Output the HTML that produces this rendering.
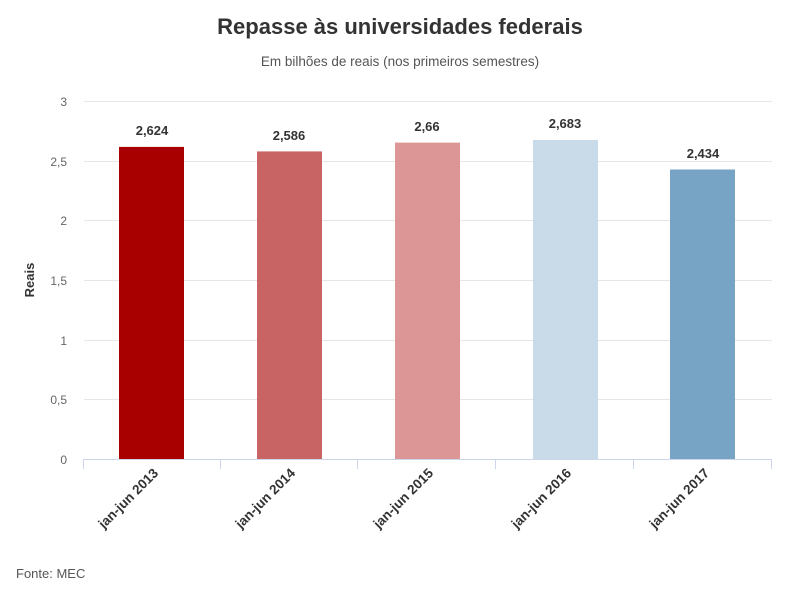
<!DOCTYPE html>
<html><head><meta charset="utf-8"><style>body{margin:0;background:#fff}svg{display:block}text{font-family:"Liberation Sans",sans-serif}</style></head><body>
<svg width="800" height="589" viewBox="0 0 800 589">
<text x="400" y="34" text-anchor="middle" font-size="22" font-weight="bold" fill="#333">Repasse às universidades federais</text>
<text x="400" y="66" text-anchor="middle" font-size="13.5" fill="#555">Em bilhões de reais (nos primeiros semestres)</text>
<g stroke="#e6e6e6" stroke-width="1">
<line x1="84" x2="772" y1="101.5" y2="101.5"/><line x1="84" x2="772" y1="161.5" y2="161.5"/>
<line x1="84" x2="772" y1="220.5" y2="220.5"/><line x1="84" x2="772" y1="280.5" y2="280.5"/>
<line x1="84" x2="772" y1="340.5" y2="340.5"/><line x1="84" x2="772" y1="399.5" y2="399.5"/>
</g>
<g font-size="12" fill="#666" text-anchor="end">
<text x="67" y="106">3</text><text x="67" y="166">2,5</text><text x="67" y="225">2</text>
<text x="67" y="285">1,5</text><text x="67" y="345">1</text><text x="67" y="404">0,5</text><text x="67" y="464">0</text>
</g>
<text transform="translate(34,280) rotate(-90)" text-anchor="middle" font-size="13" font-weight="bold" fill="#333">Reais</text>
<rect x="119" y="146.9" width="65" height="312.1" fill="#a80000"/>
<rect x="257" y="151.4" width="65" height="307.6" fill="#c86464"/>
<rect x="395" y="142.6" width="65" height="316.4" fill="#dc9696"/>
<rect x="533" y="139.9" width="65" height="319.1" fill="#c9dbe8"/>
<rect x="670" y="169.5" width="65" height="289.5" fill="#77a4c4"/>
<g font-size="13" font-weight="bold" fill="#333" text-anchor="middle">
<text x="152" y="135">2,624</text><text x="289" y="140">2,586</text><text x="427" y="131">2,66</text>
<text x="565" y="128">2,683</text><text x="703" y="158">2,434</text>
</g>
<g stroke="#ccd6eb" stroke-width="1">
<line x1="83" x2="772" y1="459.5" y2="459.5"/>
<line x1="83.5" x2="83.5" y1="459" y2="469"/><line x1="220.5" x2="220.5" y1="459" y2="469"/>
<line x1="357.5" x2="357.5" y1="459" y2="469"/><line x1="495.5" x2="495.5" y1="459" y2="469"/>
<line x1="633.5" x2="633.5" y1="459" y2="469"/><line x1="771.5" x2="771.5" y1="459" y2="469"/>
</g>
<g font-size="13.5" font-weight="bold" fill="#333" text-anchor="end">
<text transform="translate(159,474) rotate(-45)">jan-jun 2013</text>
<text transform="translate(296,474) rotate(-45)">jan-jun 2014</text>
<text transform="translate(434,474) rotate(-45)">jan-jun 2015</text>
<text transform="translate(572,474) rotate(-45)">jan-jun 2016</text>
<text transform="translate(710,474) rotate(-45)">jan-jun 2017</text>
</g>
<text x="16" y="578" font-size="13" fill="#555">Fonte: MEC</text>
</svg>
</body></html>
